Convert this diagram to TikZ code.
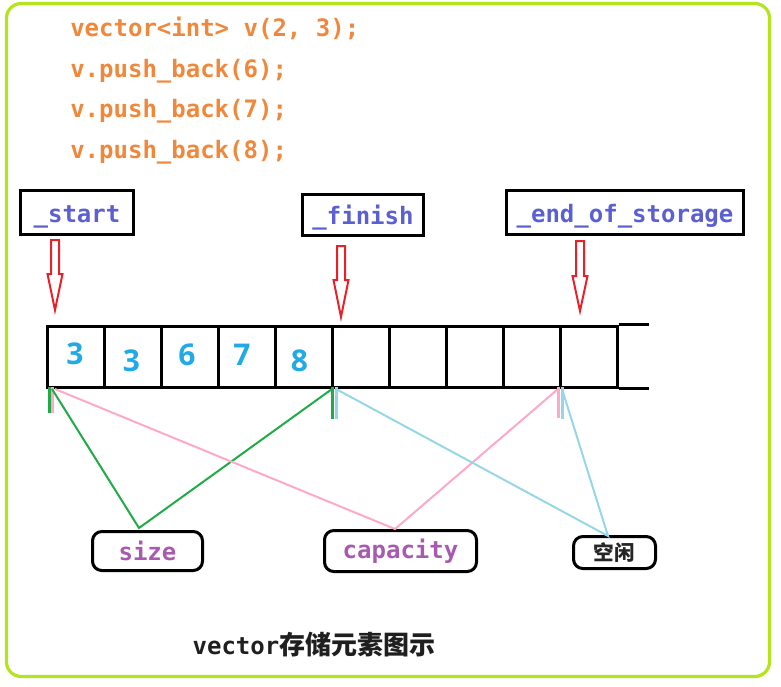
\documentclass[tikz,border=0pt]{standalone}
\usepackage{fontspec}
\setmonofont{DejaVu Sans Mono}
\newfontfamily\numfont{Open Sans}
\newfontfamily\cjk{Noto Sans CJK SC}
\definecolor{framegreen}{RGB}{180,228,30}
\definecolor{codeorange}{RGB}{240,136,60}
\definecolor{ptrblue}{RGB}{90,95,210}
\definecolor{arrred}{RGB}{232,32,42}
\definecolor{numblue}{RGB}{34,170,230}
\definecolor{lgreen}{RGB}{34,170,72}
\definecolor{lpink}{RGB}{255,168,200}
\definecolor{lblue}{RGB}{150,214,230}
\definecolor{lpurple}{RGB}{168,90,176}
\newcommand\redarrow[4]{\draw[arrline] ({#1-4},#2) -- ({#1+4},#2) -- ({#1+4},#3) -- ({#1+7.5},#3) -- (#1,#4) -- ({#1-7.5},#3) -- ({#1-4},#3) -- cycle;}
\begin{document}
\begin{tikzpicture}[x=0.75pt,y=-0.75pt,
  mono/.style={font=\fontsize{18}{20}\selectfont\ttfamily\bfseries},
  code/.style={mono, anchor=base west, inner sep=0pt, text=codeorange},
  ptrbox/.style={draw, line width=2.25pt, mono, text=ptrblue, inner sep=0pt, text height=14.25pt, text depth=0pt},
  cell/.style={draw, line width=2.25pt, minimum width=42.75pt, minimum height=45.75pt, inner sep=0pt},
  num/.style={font=\fontsize{22.5}{24}\selectfont\numfont\bfseries, text=numblue, inner sep=0pt},
  tagbox/.style={draw, line width=2.25pt, rounded corners=7pt, inner sep=0pt},
  arrline/.style={draw=arrred, line width=1.5pt, line join=miter},
  tick/.style={line width=2.25pt},
  diag/.style={line width=1.5pt}]
\useasboundingbox (0,0) rectangle (781,686);
\draw[framegreen, line width=2.4pt, rounded corners=11pt] (6.5,3.5) rectangle (769.5,676.5);
% code
\node[code] (l1) at (70,36) {vector<int> v(2, 3);};
\node[code] (l2) at (70,77) {v.push\_back(6);};
\node[code] (l3) at (70,117.5) {v.push\_back(7);};
\node[code] (l4) at (70,158) {v.push\_back(8);};
% pointer boxes
\node[ptrbox, minimum width=84.75pt, minimum height=33pt] (start) at (77,212.5) {\_start};
\node[ptrbox, minimum width=90.75pt, minimum height=31pt] (finish) at (363,215) {\_finish};
\node[ptrbox, minimum width=177.75pt, minimum height=33pt] (eos) at (625,212.5) {\_end\_of\_storage};
% red arrows
\redarrow{55}{240}{274}{310}
\redarrow{341}{246}{280}{317}
\redarrow{580}{241}{276}{311}
% cells
\foreach \i in {0,...,9} \node[cell] (c\i) at ({75.5+57*\i},356.5) {};
\draw[line width=2.25pt] (c9.north east) -- ++(30,0);
\draw[line width=2.25pt] (c9.south east) -- ++(30,0);
% numbers
\node[num] (n0) at (75,354) {3};
\node[num] (n1) at (131.5,361) {3};
\node[num] (n2) at (187,354.5) {6};
\node[num] (n3) at (242,355) {7};
\node[num] (n4) at (299.5,361) {8};
% tags
\node[tagbox, minimum width=82.5pt, minimum height=29.25pt, mono, text=lpurple] (size) at (147.5,551) {size};
\node[tagbox, minimum width=114pt, minimum height=30.75pt, mono, text=lpurple] (cap) at (400.5,551) {capacity};
\node[tagbox, minimum width=61.5pt, minimum height=24pt, font=\fontsize{15.5}{17}\selectfont\cjk\bfseries, text={black!85}] (free) at (614.5,552.5) {空闲};
% connector points
\coordinate (sizetop) at (139,528);
\coordinate (captop) at (395,529);
\coordinate (freetop) at (608,536);
\coordinate (pS) at (52,389);
\coordinate (pS2) at (55,389);
\coordinate (pF) at (332,389);
\coordinate (pF2) at (336,389);
\coordinate (pE) at (558,389);
\coordinate (pE2) at (562,389);
% ticks
\draw[tick, lgreen] (49,387) -- (49,413);
\draw[tick, lpink] (52,387) -- (52,413);
\draw[tick, lgreen] (332,387) -- (332,419);
\draw[tick, lblue] (336,387) -- (336,419);
\draw[tick, lpink] (558,387) -- (558,418);
\draw[tick, lblue] (562,387) -- (562,419);
% diagonals
\draw[diag, lgreen] (pS) -- (sizetop) -- (pF);
\draw[diag, lpink] (pS2) -- (captop) -- (pE);
\draw[diag, lblue] (pF2) -- (freetop) -- (pE2);
% caption
\node[inner sep=0pt, text={black!88}] (cap2) at (314,645) {\fontsize{18}{20}\selectfont\ttfamily\bfseries vector\fontsize{19.5}{22}\selectfont\cjk\bfseries 存储元素图示};
\end{tikzpicture}
\end{document}
